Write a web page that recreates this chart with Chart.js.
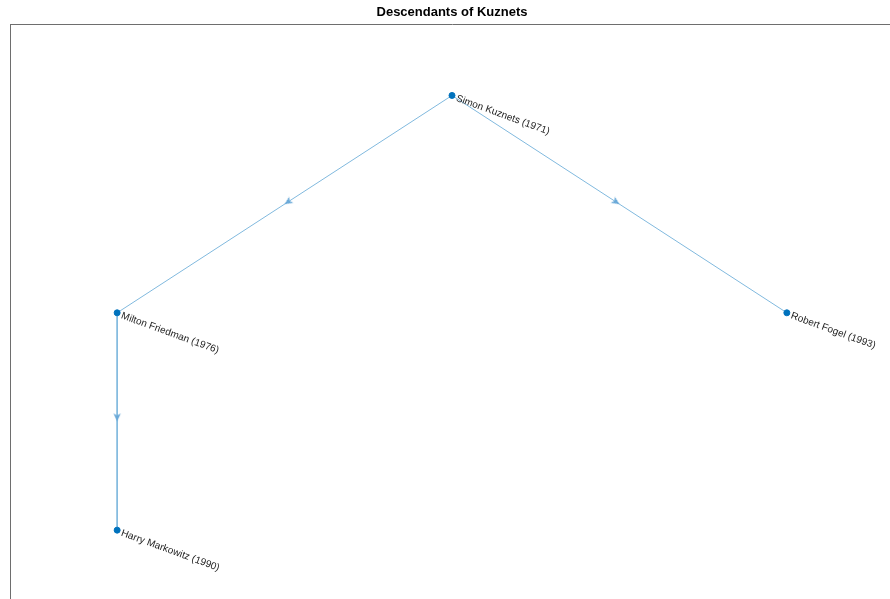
<!DOCTYPE html>
<html>
<head>
<meta charset="utf-8">
<script src="https://cdn.jsdelivr.net/npm/chart.js@4/dist/chart.umd.min.js"></script>
<style>
  html, body { margin: 0; padding: 0; background: #fff; overflow: hidden; }
</style>
</head>
<body>
<canvas id="graphChart" width="900" height="610"></canvas>
<script>
// nodes of the graph (layered layout coordinates)
const names = ['Simon Kuznets (1971)', 'Milton Friedman (1976)', 'Robert Fogel (1993)', 'Harry Markowitz (1990)'];
const nodeX = [2, 1, 3, 1];
const nodeY = [3, 2, 2, 1];
// directed edges, by node index
const edgeFrom = [0, 0, 1];
const edgeTo = [1, 2, 3];

const nodeColor = '#0072BD';
const edgeColor = '#80b9de';
const arrowColor = '#6aa9d8';

const nodePoints = names.map((n, i) => ({ x: nodeX[i], y: nodeY[i], label: n }));

const edgeSets = edgeFrom.map((f, i) => ({
    type: 'scatter',
    showLine: true,
    data: [{ x: nodeX[f], y: nodeY[f] }, { x: nodeX[edgeTo[i]], y: nodeY[edgeTo[i]] }],
    borderColor: edgeColor,
    borderWidth: 1,
    pointRadius: 0,
    order: 3
}));

// arrow heads sit at the middle of each edge
const arrowPoints = edgeFrom.map((f, i) => ({
    x: (nodeX[f] + nodeX[edgeTo[i]]) / 2,
    y: (nodeY[f] + nodeY[edgeTo[i]]) / 2,
    from: f,
    to: edgeTo[i]
}));

// small arrowhead sprite, tip at the centre, pointing up
const arrowImg = document.createElement('canvas');
arrowImg.width = 18;
arrowImg.height = 18;
(() => {
    const c = arrowImg.getContext('2d');
    c.fillStyle = arrowColor;
    c.beginPath();
    c.moveTo(9, 9);
    c.lineTo(5.3, 17);
    c.lineTo(9, 15);
    c.lineTo(12.7, 17);
    c.closePath();
    c.fill();
})();

const nodeLabels = {
    id: 'nodeLabels',
    afterDatasetsDraw(chart) {
        const ctx = chart.ctx;
        const xs = chart.scales.x, ys = chart.scales.y;
        ctx.save();
        ctx.font = '10px "Liberation Sans", Arial, sans-serif';
        ctx.fillStyle = '#222';
        ctx.textBaseline = 'middle';
        ctx.textAlign = 'left';
        nodePoints.forEach(p => {
            ctx.save();
            ctx.translate(xs.getPixelForValue(p.x), ys.getPixelForValue(p.y));
            ctx.rotate(20 * Math.PI / 180);
            ctx.fillText(p.label, 5, 1);
            ctx.restore();
        });
        ctx.restore();
    }
};

new Chart(document.getElementById('graphChart'), {
    type: 'scatter',
    data: {
        datasets: [
            {
                data: nodePoints,
                backgroundColor: nodeColor,
                borderColor: nodeColor,
                pointRadius: 3,
                pointHoverRadius: 3,
                order: 1
            },
            {
                data: arrowPoints,
                pointStyle: arrowImg,
                pointRadius: 9,
                pointRotation: (c) => {
                    const p = c.raw;
                    if (!p) return 0;
                    const xs = c.chart.scales.x, ys = c.chart.scales.y;
                    const dx = xs.getPixelForValue(nodeX[p.to]) - xs.getPixelForValue(nodeX[p.from]);
                    const dy = ys.getPixelForValue(nodeY[p.to]) - ys.getPixelForValue(nodeY[p.from]);
                    return Math.atan2(dx, -dy) * 180 / Math.PI;
                },
                order: 2
            },
            ...edgeSets
        ]
    },
    options: {
        responsive: false,
        animation: false,
        layout: { autoPadding: false, padding: { left: 10, right: 6, top: 0, bottom: 9 } },
        plugins: {
            legend: { display: false },
            tooltip: { enabled: false },
            title: {
                display: true,
                text: 'Descendants of Kuznets',
                color: '#000',
                font: { family: '"Liberation Sans", Arial, sans-serif', size: 13, weight: 'bold' },
                padding: { top: 5, bottom: 4 }
            }
        },
        scales: {
            x: {
                type: 'linear',
                position: 'top',
                min: 0.68,
                max: 3.32,
                ticks: { display: false },
                grid: { display: false },
                border: { display: true, color: '#6e6e6e', width: 1 },
                afterFit: (s) => { s.height = 0; }
            },
            y: {
                type: 'linear',
                position: 'left',
                min: 0.674,
                max: 3.326,
                ticks: { display: false },
                grid: { display: false },
                border: { display: true, color: '#6e6e6e', width: 1 },
                afterFit: (s) => { s.width = 0; }
            }
        }
    },
    plugins: [nodeLabels]
});
</script>
</body>
</html>
